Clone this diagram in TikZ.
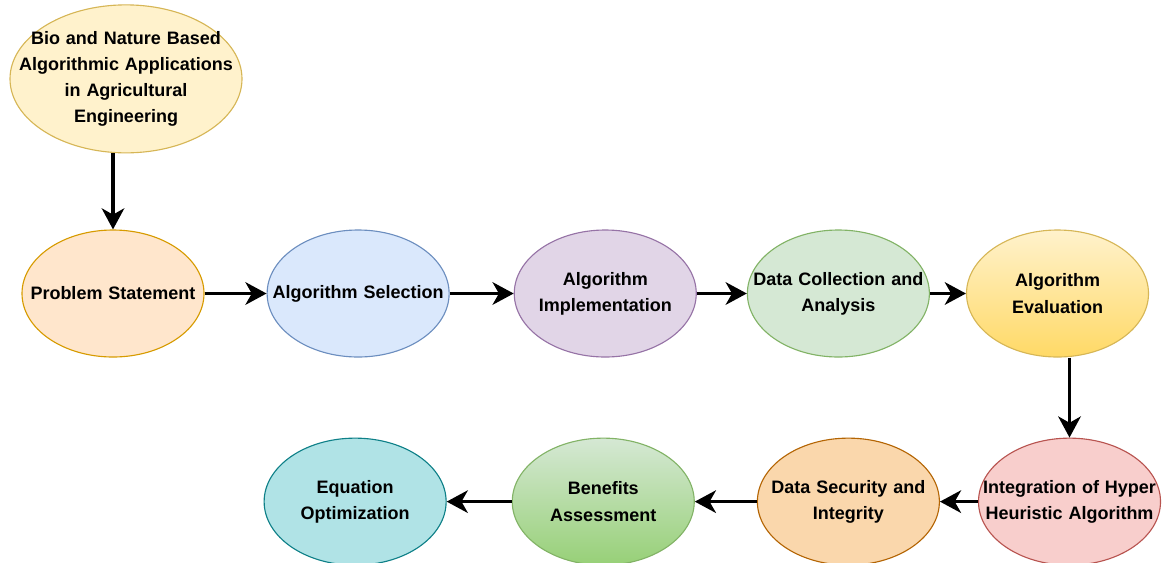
\documentclass[tikz,border=0pt]{standalone}
\usepackage{fontspec}
\setmainfont{Liberation Sans}
\usepackage{tikz}
\usetikzlibrary{positioning, shapes, arrows.meta}

\definecolor{bioFill}{HTML}{FFF2CC}
\definecolor{bioLine}{HTML}{D6B656}
\definecolor{probFill}{HTML}{FFE6CC}
\definecolor{probLine}{HTML}{D79B00}
\definecolor{selFill}{HTML}{DAE8FC}
\definecolor{selLine}{HTML}{6C8EBF}
\definecolor{implFill}{HTML}{E1D5E7}
\definecolor{implLine}{HTML}{9673A6}
\definecolor{dataFill}{HTML}{D5E8D4}
\definecolor{dataLine}{HTML}{82B366}
\definecolor{evalTop}{HTML}{FFF2CC}
\definecolor{evalBot}{HTML}{FFD966}
\definecolor{hypFill}{HTML}{F8CECC}
\definecolor{hypLine}{HTML}{B85450}
\definecolor{secFill}{HTML}{FAD7AC}
\definecolor{secLine}{HTML}{B46504}
\definecolor{benBot}{HTML}{97D077}
\definecolor{eqFill}{HTML}{B0E3E6}
\definecolor{eqLine}{HTML}{0E8088}

\begin{document}
\begin{tikzpicture}[
myell/.style={ellipse,
  draw,
  line width=0.8pt,
  text width=6cm,
  inner xsep=-1.5cm,
  inner ysep=0pt,
  minimum width=4.55cm,
  minimum height=3.175cm,
  align=center,
  font=\fontsize{12.8}{18.7}\selectfont\bfseries
},
myarrow/.style={
  -{Stealth[length=15pt, width=16pt, inset=4.5pt]},
  line width=2.5pt,
  black
}
]

\useasboundingbox (0,0) rectangle (29.075,-14.05);

\node[myell, fill=probFill, draw=probLine] (prob) at (2.825,-7.3375)
    {Problem Statement};
\node[myell, fill=bioFill, draw=bioLine, minimum width=5.8cm, minimum height=3.7cm,
      above=1.9cm of prob, xshift=0.325cm] (bio)
    {Bio and Nature Based\\Algorithmic Applications\\in Agricultural\\Engineering};
\node[myell, fill=selFill, draw=selLine, right=1.55cm of prob] (sel)
    {Algorithm Selection};
\node[myell, fill=implFill, draw=implLine, right=1.6cm of sel] (impl)
    {Algorithm\\Implementation};
\node[myell, fill=dataFill, draw=dataLine, right=1.25cm of impl] (data)
    {Data Collection and\\Analysis};
\node[myell, top color=evalTop, bottom color=evalBot, draw=bioLine, right=0.9cm of data] (eval)
    {Algorithm\\Evaluation};
\node[myell, fill=hypFill, draw=hypLine, below=2cm of eval, xshift=0.3cm] (hyper)
    {Integration of Hyper\\Heuristic Algorithm};
\node[myell, fill=secFill, draw=secLine, left=0.95cm of hyper] (sec)
    {Data Security and\\Integrity};
\node[myell, top color=dataFill, bottom color=benBot, draw=dataLine, left=1.55cm of sec] (ben)
    {Benefits\\Assessment};
\node[myell, fill=eqFill, draw=eqLine, left=1.625cm of ben] (eq)
    {Equation\\Optimization};

\draw[myarrow] (prob.north |- bio.south) -- (prob.north);
\draw[myarrow] (prob) -- (sel);
\draw[myarrow] (sel) -- (impl);
\draw[myarrow] (impl) -- (data);
\draw[myarrow] (data) -- (eval);
\draw[myarrow] (hyper.north |- eval.south) -- (hyper.north);
\draw[myarrow] (hyper) -- (sec);
\draw[myarrow] (sec) -- (ben);
\draw[myarrow] (ben) -- (eq);
\end{tikzpicture}
\end{document}
